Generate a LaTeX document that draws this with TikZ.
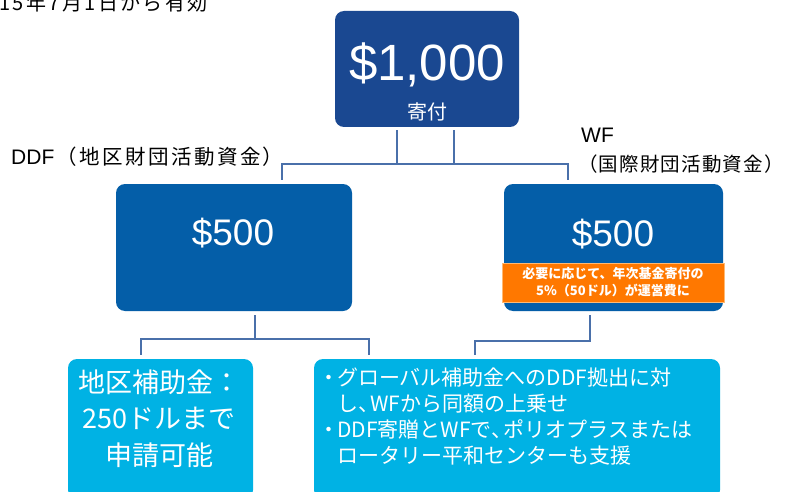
\documentclass[tikz,border=0pt]{standalone}
\usepackage{fontspec}
\setmainfont{Liberation Sans}
\newfontfamily\jp{Noto Sans CJK JP}
\newfontfamily\jpwide[LetterSpace=12]{Noto Sans CJK JP}
\newfontfamily\jpmid[LetterSpace=6]{Noto Sans CJK JP}
\usetikzlibrary{calc}
\definecolor{darkblue}{HTML}{1A4891}
\definecolor{midblue}{HTML}{045EA8}
\definecolor{lightblue}{HTML}{00B2E4}
\definecolor{orangeband}{HTML}{FF7800}
\definecolor{connblue}{HTML}{4A70AA}
\tikzset{
  box/.style={rounded corners=9pt, inner sep=0pt, text=white, align=center},
  conn/.style={draw=connblue, line width=2.2pt},
  lbl/.style={inner sep=0pt, text=black, anchor=west},
}
\newcommand{\bul}{\makebox[17pt][c]{・}}
\newcommand{\tc}{\makebox[12pt][l]{、}}
\begin{document}
\begin{tikzpicture}[x=1pt,y=-1pt]
\useasboundingbox (0,0) rectangle (792,492);
\clip (0,0) rectangle (792,492);
\fill[white] (0,0) rectangle (792,492);
% top label
\node[lbl] (date) at (-1,3) {\jpwide\fontsize{20}{22}\selectfont 15年7月1日から有効};
% top box
\node[box, fill=darkblue, minimum width=184pt, minimum height=116pt] (top) at (427,69) {};
\node[text=white, inner sep=0pt] (amt) at (427,65) {\fontsize{51}{51}\selectfont \$1,000};
\node[text=white, inner sep=0pt] (kifu) at (427,112) {\jp\fontsize{20}{22}\selectfont 寄付};
% second row
\node[box, fill=midblue, minimum width=236pt, minimum height=127pt] (ddf) at (234,247.5) {};
\node[text=white, inner sep=0pt] (ddfamt) at (233,233) {\fontsize{37}{37}\selectfont \$500};
\node[box, fill=midblue, minimum width=219pt, minimum height=127pt] (wf) at (613.5,247.5) {};
\node[text=white, inner sep=0pt] (wfamt) at (613,234) {\fontsize{37}{37}\selectfont \$500};
\node[fill=orangeband, draw=orange!55!white, line width=0.6pt, minimum width=222pt, minimum height=39pt, inner sep=0pt, text=white, align=center, font=\jp\bfseries\fontsize{13}{17}\selectfont] (band) at (613,282.5) {必要に応じて、年次基金寄付の\\5\%（50ドル）が運営費に};
% labels
\node[lbl] (ddflbl) at (11,157) {\fontsize{21}{22}\selectfont DDF\hspace{2pt}\jpwide\fontsize{20.5}{22}\selectfont（地区財団活動資金）};
\node[lbl] (wflbl) at (581,135) {\fontsize{21}{22}\selectfont WF};
\node[lbl] (wflbl2) at (578,164) {\jpmid\fontsize{19.5}{22}\selectfont （国際財団活動資金）};
% third row
\node[box, fill=lightblue, minimum width=185pt, minimum height=140pt] (lbox) at (160.5,429) {};
\node[text=white, inner sep=0pt, align=center, font=\jp\fontsize{27}{36.5}\selectfont] (ltext) at (159,418.5) {地区補助金：\\250ドルまで\\申請可能};
\node[box, fill=lightblue, minimum width=406pt, minimum height=140pt] (rbox) at (517,429) {};
\node[text=white, inner sep=0pt, align=left, anchor=north west, font=\jp\fontsize{21}{26}\selectfont] (rtext) at (320,368) {%
\bul グローバル補助金へのDDF拠出に対\\
\hspace*{17pt}し\tc WFから同額の上乗せ\\
\bul DDF寄贈とWFで\tc ポリオプラスまたは\\
\hspace*{17pt}ロータリー平和センターも支援};
% connectors
\draw[conn] ([xshift=-30pt,yshift=-3pt]top.south) -- ++(0,34);
\draw[conn] ([xshift=27pt,yshift=-3pt]top.south) -- ++(0,34);
\draw[conn] ([xshift=48pt,yshift=4pt]ddf.north) -- ++(0,-16) -| ([xshift=-45.5pt,yshift=4pt]wf.north);
\draw[conn] ([xshift=21pt,yshift=-4pt]ddf.south) -- ++(0,24);
\draw[conn] ([xshift=-19.5pt,yshift=4pt]lbox.north) -- ++(0,-16) -| ([xshift=-148pt,yshift=4pt]rbox.north);
\draw[conn] ([xshift=-23.5pt,yshift=-4pt]wf.south) -- ++(0,26) -| ([xshift=-42pt,yshift=4pt]rbox.north);
\end{tikzpicture}
\end{document}
